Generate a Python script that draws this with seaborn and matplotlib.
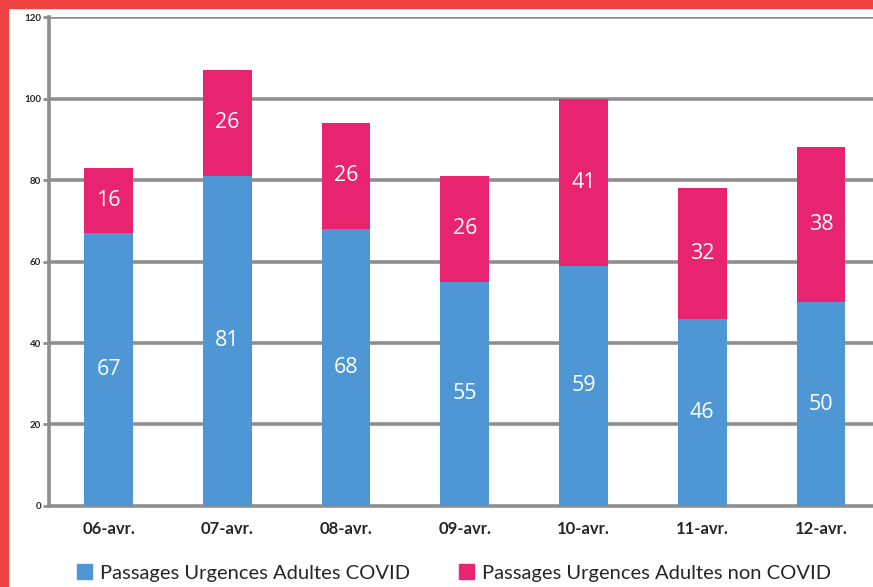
import matplotlib
matplotlib.use("Agg")
import matplotlib.pyplot as plt
import matplotlib.patches as mpatches
import seaborn as sns
import pandas as pd

dates = ["06-avr.", "07-avr.", "08-avr.", "09-avr.", "10-avr.", "11-avr.", "12-avr."]
covid = [67, 81, 68, 55, 59, 46, 50]
non_covid = [16, 26, 26, 26, 41, 32, 38]
y_ticks = [0, 20, 40, 60, 80, 100, 120]

BLUE = "#4F97D4"
PINK = "#E8236F"
GRID = "#8E8E8E"
RED = "#F04343"

sns.set_theme(style="white")
plt.rcParams["font.family"] = ["Lato", "DejaVu Sans"]

df = pd.DataFrame({"date": dates, "covid": covid, "non_covid": non_covid})
df["total"] = df["covid"] + df["non_covid"]

fig = plt.figure(figsize=(8.73, 5.87), dpi=100)
ax = fig.add_axes([0.0564, 0.138, 0.952, 0.833])

for y in y_ticks[1:]:
    ax.axhline(y, color=GRID, lw=2.6, zorder=0)

sns.barplot(data=df, x="date", y="total", color=PINK, width=0.41, saturation=1,
            linewidth=0, ax=ax, zorder=2)
sns.barplot(data=df, x="date", y="covid", color=BLUE, width=0.41, saturation=1,
            linewidth=0, ax=ax, zorder=3)

for i, (c, n) in enumerate(zip(covid, non_covid)):
    ax.text(i, c / 2, str(c), ha="center", va="center", color="white", fontsize=15.5,
            family="Open Sans", zorder=4)
    ax.text(i, c + n / 2, str(n), ha="center", va="center", color="white", fontsize=15.5,
            family="Open Sans", zorder=4)

ax.set_ylim(0, 120)
ax.set_xlim(-0.5, 6.5)
ax.set_yticks(y_ticks)
ax.set_yticklabels([str(v) for v in y_ticks], fontsize=7, fontweight="bold")
ax.set_xticks(range(len(dates)))
ax.set_xticklabels(dates, fontsize=12, fontweight="bold")
ax.set_xticks([i + 0.5 for i in range(len(dates) - 1)], minor=True)
ax.tick_params(axis="x", which="major", length=0, pad=11)
ax.tick_params(axis="x", which="minor", length=6, width=2.5, color=GRID, direction="out")
ax.tick_params(axis="y", length=4, width=2, color=GRID, direction="out", pad=2, left=True)
ax.set_xlabel("")
ax.set_ylabel("")
for s in ["top", "right"]:
    ax.spines[s].set_visible(False)
for s in ["left", "bottom"]:
    ax.spines[s].set_color(GRID)
    ax.spines[s].set_linewidth(2.6)

handles = [mpatches.Patch(color=BLUE, label="Passages Urgences Adultes COVID"),
           mpatches.Patch(color=PINK, label="Passages Urgences Adultes non COVID")]
fig.legend(handles=handles, loc="center", bbox_to_anchor=(0.52, 0.024), ncol=2,
           frameon=False, fontsize=14.5, handlelength=0.75, handleheight=0.75,
           handletextpad=0.4, columnspacing=2.4, borderpad=0)

fig.patches.append(mpatches.Rectangle((0, 0), 8 / 873, 1, transform=fig.transFigure,
                                      color=RED, zorder=10))
fig.patches.append(mpatches.Rectangle((0, 1 - 8 / 587), 1, 8 / 587, transform=fig.transFigure,
                                      color=RED, zorder=10))

fig.savefig("out.png", dpi=100)
